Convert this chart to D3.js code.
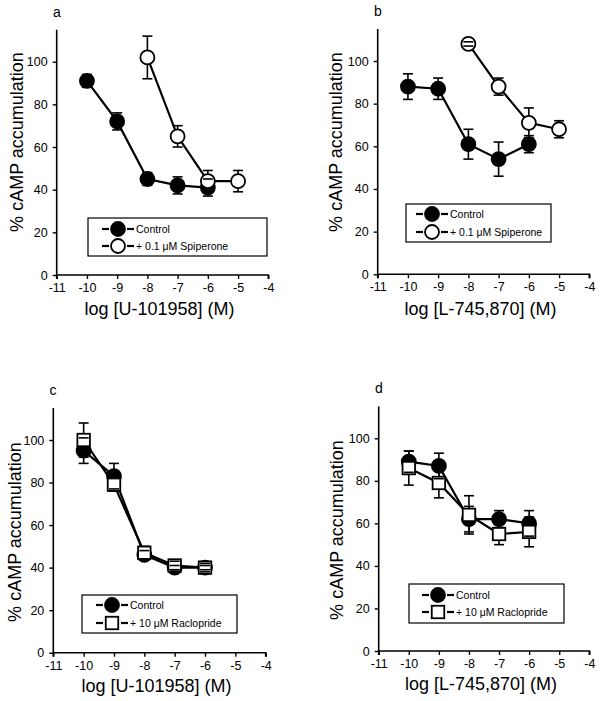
<!DOCTYPE html>
<html>
<head>
<meta charset="utf-8">
<script src="https://cdn.jsdelivr.net/npm/d3@7"></script>
<style>
  html, body { margin: 0; padding: 0; background: #fff; }
  svg { display: block; font-family: "Liberation Sans", Arial, Helvetica, sans-serif; }
</style>
</head>
<body>
<svg id="chart" width="601" height="701"></svg>
<script>
// ---------- data ----------
const xTicks = [-11, -10, -9, -8, -7, -6, -5, -4];
const yTicks = [0, 20, 40, 60, 80, 100];
const yTitle = "% cAMP accumulation";
const panelLabels = ["a", "b", "c", "d"];
const xTitles = ["log [U-101958] (M)", "log [L-745,870] (M)", "log [U-101958] (M)", "log [L-745,870] (M)"];
const controlLabel = "Control";
const spiperoneLabel = "+ 0.1 \u03bcM Spiperone";
const raclopLabel = "+ 10 \u03bcM Raclopride";

// panel a
const aCtrlX = [-10, -9, -8, -7, -6];
const aCtrlY = [91, 72, 45, 42, 41];
const aCtrlE = [3, 4, 3, 4, 4];
const aSpipX = [-8, -7, -6, -5];
const aSpipY = [102, 65, 44, 44];
const aSpipE = [10, 5, 5, 5];
// panel b
const bCtrlX = [-10, -9, -8, -7, -6];
const bCtrlY = [88, 87, 61, 54, 61];
const bCtrlE = [6, 5, 7, 8, 4];
const bSpipX = [-8, -7, -6, -5];
const bSpipY = [108, 88, 71, 68];
const bSpipE = [1, 4, 7, 4];
// panel c
const cCtrlX = [-10, -9, -8, -7, -6];
const cCtrlY = [95, 83, 46, 40, 40];
const cCtrlE = [6, 6, 2, 1, 1];
const cRaclX = [-10, -9, -8, -7, -6];
const cRaclY = [100, 79, 47, 41, 40];
const cRaclE = [8, 3, 3, 2, 2];
// panel d
const dCtrlX = [-10, -9, -8, -7, -6];
const dCtrlY = [89, 87, 62, 62, 60];
const dCtrlE = [5, 6, 6, 4, 6];
const dRaclX = [-10, -9, -8, -7, -6];
const dRaclY = [86, 79, 64, 55, 56];
const dRaclE = [8, 7, 9, 5, 7];

function zip(xs, ys, es) { return xs.map((x, i) => ({ x: x, y: ys[i], e: es[i] })); }

// ---------- layout ----------
const panels = [
  { label: panelLabels[0], xt: xTitles[0], x0: 56.7, x1: 268.3, y0: 275, y100: 61.7,
    lab: [57, 17], ytx: 17, ytc: 142, xtY: 315,
    leg: { x: 88, y: 218, w: 179, h: 38, cx: 30, r1: 11, r2: 28 },
    series: [
      { name: controlLabel, shape: "circle", fill: "#000", d: zip(aCtrlX, aCtrlY, aCtrlE) },
      { name: spiperoneLabel, shape: "circle", fill: "#fff", d: zip(aSpipX, aSpipY, aSpipE) } ] },
  { label: panelLabels[1], xt: xTitles[1], x0: 377.7, x1: 589.3, y0: 274.3, y100: 61,
    lab: [378, 16], ytx: 336, ytc: 142, xtY: 315,
    leg: { x: 406, y: 204, w: 145, h: 38, cx: 26, r1: 10, r2: 28 },
    series: [
      { name: controlLabel, shape: "circle", fill: "#000", d: zip(bCtrlX, bCtrlY, bCtrlE) },
      { name: spiperoneLabel, shape: "circle", fill: "#fff", d: zip(bSpipX, bSpipY, bSpipE) } ] },
  { label: panelLabels[2], xt: xTitles[2], x0: 53.3, x1: 265.7, y0: 652.7, y100: 440,
    lab: [53, 395], ytx: 15, ytc: 532, xtY: 692,
    leg: { x: 82, y: 595, w: 155, h: 38, cx: 30, r1: 10, r2: 28 },
    series: [
      { name: controlLabel, shape: "circle", fill: "#000", d: zip(cCtrlX, cCtrlY, cCtrlE) },
      { name: raclopLabel, shape: "square", fill: "#fff", d: zip(cRaclX, cRaclY, cRaclE) } ] },
  { label: panelLabels[3], xt: xTitles[3], x0: 378.7, x1: 589.3, y0: 651, y100: 438.3,
    lab: [379, 393], ytx: 337, ytc: 530, xtY: 690,
    leg: { x: 409, y: 584, w: 155, h: 39, cx: 29, r1: 11, r2: 28 },
    series: [
      { name: controlLabel, shape: "circle", fill: "#000", d: zip(dCtrlX, dCtrlY, dCtrlE) },
      { name: raclopLabel, shape: "square", fill: "#fff", d: zip(dRaclX, dRaclY, dRaclE) } ] }
];

const svg = d3.select("#chart");
const R = 7, S = 12.5, CAP = 5;
const fmt = v => String(v); // plain hyphen-minus like the original

function marker(g, shape, fill, cx, cy) {
  if (shape === "circle") {
    g.append("circle").attr("cx", cx).attr("cy", cy).attr("r", R)
      .attr("fill", fill).attr("stroke", "#000").attr("stroke-width", 1.8);
  } else {
    g.append("rect").attr("x", cx - S / 2).attr("y", cy - S / 2).attr("width", S).attr("height", S)
      .attr("fill", fill).attr("stroke", "#000").attr("stroke-width", 1.8);
  }
}

panels.forEach(p => {
  const x = d3.scaleLinear().domain([-11, -4]).range([p.x0, p.x1]);
  const y = d3.scaleLinear().domain([0, 100]).range([p.y0, p.y100]);
  const g = svg.append("g");

  // axes
  const xa = g.append("g").attr("transform", `translate(0,${p.y0})`)
    .call(d3.axisBottom(x).tickValues(xTicks).tickSize(4).tickPadding(4).tickFormat(fmt));
  const ya = g.append("g").attr("transform", `translate(${p.x0},0)`)
    .call(d3.axisLeft(y).tickValues(yTicks).tickSize(4).tickPadding(5).tickFormat(fmt));
  ya.select(".domain").remove();
  g.append("line").attr("x1", p.x0).attr("x2", p.x0).attr("y1", p.y0).attr("y2", y(115))
    .attr("stroke", "#000").attr("stroke-width", 1.6);
  [xa, ya].forEach(a => {
    a.selectAll("path").attr("stroke", "#000").attr("stroke-width", 1.6);
    a.selectAll("line").attr("stroke", "#000").attr("stroke-width", 1.4);
    a.selectAll("text").attr("fill", "#000").style("font-size", "12.5px")
      .style("font-family", '"Liberation Sans", Arial, sans-serif');
  });
  xa.select(".domain").attr("d", `M${p.x0},4V0H${p.x1}V4`);

  // titles
  g.append("text").attr("x", (p.x0 + p.x1) / 2 - 3).attr("y", p.xtY).attr("text-anchor", "middle")
    .style("font-size", "18px").text(p.xt);
  g.append("text").attr("transform", `translate(${p.ytx},${p.ytc}) rotate(-90)`)
    .attr("text-anchor", "middle").attr("dominant-baseline", "central")
    .style("font-size", "18px").text(yTitle);
  g.append("text").attr("x", p.lab[0]).attr("y", p.lab[1]).attr("text-anchor", "middle")
    .style("font-size", "14px").text(p.label);

  const line = d3.line().x(d => x(d.x)).y(d => y(d.y));
  // connecting lines
  p.series.forEach(s => {
    g.append("path").datum(s.d).attr("d", line).attr("fill", "none")
      .attr("stroke", "#000").attr("stroke-width", 2.2);
  });
  // error bar stems
  p.series.forEach(s => {
    g.selectAll(null).data(s.d).enter().append("line")
      .attr("x1", d => x(d.x)).attr("x2", d => x(d.x))
      .attr("y1", d => y(d.y - d.e)).attr("y2", d => y(d.y + d.e))
      .attr("stroke", "#000").attr("stroke-width", 1.6);
  });
  // markers
  p.series.forEach(s => {
    s.d.forEach(d => marker(g, s.shape, s.fill, x(d.x), y(d.y)));
  });
  // caps
  p.series.forEach(s => {
    s.d.forEach(d => {
      [d.y - d.e, d.y + d.e].forEach(v => {
        g.append("line").attr("x1", x(d.x) - CAP).attr("x2", x(d.x) + CAP)
          .attr("y1", y(v)).attr("y2", y(v)).attr("stroke", "#000").attr("stroke-width", 1.6);
      });
    });
  });

  // legend
  const L = p.leg;
  const lg = g.append("g").attr("transform", `translate(${L.x},${L.y})`);
  lg.append("rect").attr("width", L.w).attr("height", L.h).attr("fill", "#fff")
    .attr("stroke", "#000").attr("stroke-width", 1.2);
  p.series.forEach((s, i) => {
    const cy = i === 0 ? L.r1 : L.r2;
    [[-16, -9], [9, 16]].forEach(seg => {
      lg.append("line").attr("x1", L.cx + seg[0]).attr("x2", L.cx + seg[1])
        .attr("y1", cy).attr("y2", cy).attr("stroke", "#000").attr("stroke-width", 2.2);
    });
    marker(lg, s.shape, s.fill, L.cx, cy);
    lg.append("text").attr("x", L.cx + 18).attr("y", cy).attr("dominant-baseline", "central")
      .style("font-size", "10.5px").text(s.name);
  });
});
</script>
</body>
</html>
